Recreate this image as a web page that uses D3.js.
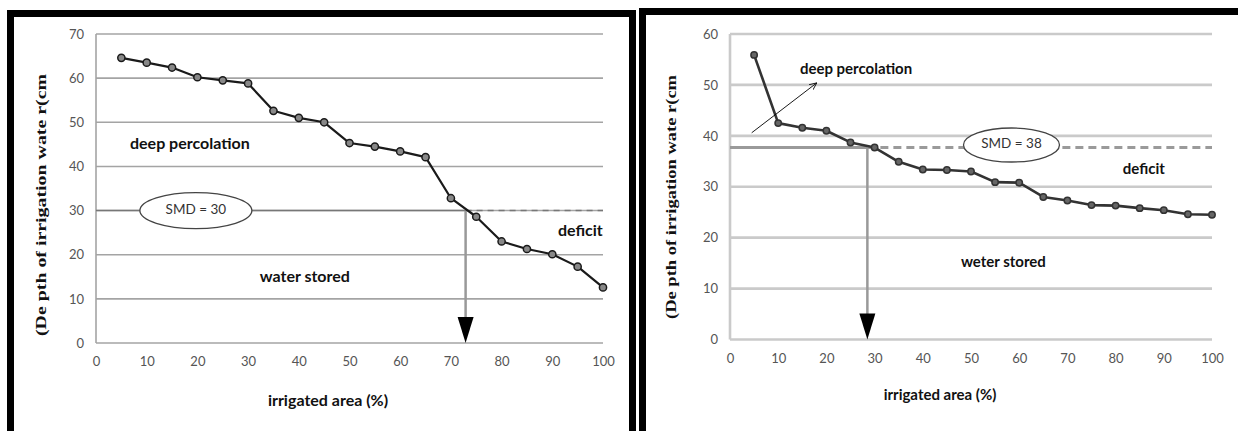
<!DOCTYPE html>
<html>
<head>
<meta charset="utf-8">
<script src="https://cdn.jsdelivr.net/npm/d3@7"></script>
<style>
  html, body { margin: 0; padding: 0; background: #fff; }
  svg { display: block; }
</style>
</head>
<body>
<svg id="chart" width="1238" height="431"></svg>
<script>
// irrigated area (%) for every measured point
const areaPct = [5, 10, 15, 20, 25, 30, 35, 40, 45, 50, 55, 60, 65, 70, 75, 80, 85, 90, 95, 100];

// depth of irrigation water (cm)
const depthLeft = [64.6, 63.5, 62.4, 60.2, 59.5, 58.8, 52.6, 51.0, 50.0, 45.3, 44.5, 43.4, 42.1, 32.8, 28.6, 23.0, 21.3, 20.1, 17.3, 12.6];
const depthRight = [55.9, 42.5, 41.6, 41.0, 38.7, 37.7, 34.9, 33.4, 33.3, 33.0, 30.9, 30.8, 28.0, 27.3, 26.4, 26.3, 25.8, 25.4, 24.6, 24.5];

const xTicks = [0, 10, 20, 30, 40, 50, 60, 70, 80, 90, 100];
const yTicksLeft = [0, 10, 20, 30, 40, 50, 60, 70];
const yTicksRight = [0, 10, 20, 30, 40, 50, 60];

// soil moisture deficit line and where it meets the curve
const smdLeft = 30, smdLeftLabel = "SMD = 30", cutLeft = 72.9;
const smdRight = 37.7, smdRightLabel = "SMD = 38", cutRight = 28.5;

const xTitle = "irrigated area (%)";
const yTitle = "(De pth of irrigation wate r(cm";

const svg = d3.select("#chart");

function drawPanel(opt) {
    const x = d3.scaleLinear().domain([0, 100]).range(opt.xRange);
    const y = d3.scaleLinear().domain(opt.yDomain).range(opt.yRange);
    const g = svg.append("g");

    // black frame round the panel
    g.append("rect")
        .attr("x", opt.frame[0]).attr("y", opt.frame[1])
        .attr("width", opt.frame[2]).attr("height", opt.frame[3])
        .attr("fill", "none").attr("stroke", "#000").attr("stroke-width", 7);

    // horizontal gridlines
    g.append("g")
        .selectAll("line")
        .data(opt.yTicks)
        .join("line")
        .attr("x1", x(0)).attr("x2", x(100))
        .attr("y1", d => y(d)).attr("y2", d => y(d))
        .attr("stroke", opt.gridColor).attr("stroke-width", opt.gridWidth);

    // vertical axis line
    g.append("line")
        .attr("x1", x(0)).attr("x2", x(0))
        .attr("y1", y(opt.yDomain[0])).attr("y2", y(opt.yDomain[1]))
        .attr("stroke", opt.gridColor).attr("stroke-width", opt.gridWidth);

    // tick labels
    const yAxis = g.append("g")
        .attr("transform", `translate(${x(0) - 12},0)`)
        .call(d3.axisLeft(y).tickValues(opt.yTicks).tickSize(0).tickPadding(0));
    const xAxis = g.append("g")
        .attr("transform", `translate(0,${y(0) + 14})`)
        .call(d3.axisBottom(x).tickValues(xTicks).tickSize(0).tickPadding(0));
    [xAxis, yAxis].forEach(a => {
        a.select(".domain").remove();
        a.selectAll("text")
            .attr("font-family", "Lato, 'Open Sans', sans-serif")
            .attr("font-size", opt.tickSize)
            .attr("fill", "#555");
    });

    // axis titles
    g.append("text")
        .attr("x", opt.xTitlePos[0]).attr("y", opt.xTitlePos[1])
        .attr("text-anchor", "middle").attr("dominant-baseline", "middle")
        .attr("font-family", "Lato, sans-serif").attr("font-weight", "bold")
        .attr("font-size", opt.titleSize).attr("fill", "#111")
        .text(xTitle);
    g.append("text")
        .attr("transform", `translate(${opt.yTitlePos[0]},${opt.yTitlePos[1]}) rotate(-90)`)
        .attr("text-anchor", "middle").attr("dominant-baseline", "middle")
        .attr("font-family", "'Liberation Serif', 'Times New Roman', serif").attr("font-weight", "bold")
        .attr("font-size", opt.yTitleSize).attr("fill", "#111")
        .attr("textLength", opt.yTitleLen).attr("lengthAdjust", "spacingAndGlyphs")
        .text(yTitle);

    // SMD line: solid up to the curve, dashed after it
    g.append("line")
        .attr("x1", x(0)).attr("x2", x(opt.cut))
        .attr("y1", y(opt.smd)).attr("y2", y(opt.smd))
        .attr("stroke", opt.smdColor).attr("stroke-width", opt.smdWidth);
    g.append("line")
        .attr("x1", x(opt.cut)).attr("x2", x(100))
        .attr("y1", y(opt.smd)).attr("y2", y(opt.smd))
        .attr("stroke", opt.smdColor).attr("stroke-width", opt.smdWidth)
        .attr("stroke-dasharray", opt.dash);

    // vertical arrow down to the x axis
    g.append("line")
        .attr("x1", x(opt.cut)).attr("x2", x(opt.cut))
        .attr("y1", y(opt.smd)).attr("y2", y(0) - 20)
        .attr("stroke", "#999").attr("stroke-width", 2.5);
    const ax = x(opt.cut), ay = y(0);
    g.append("path")
        .attr("d", `M${ax - 8},${ay - 26}L${ax + 8},${ay - 26}L${ax},${ay}Z`)
        .attr("fill", "#000");

    // SMD ellipse label
    g.append("ellipse")
        .attr("cx", x(opt.ellipse[0])).attr("cy", y(opt.ellipse[1]))
        .attr("rx", opt.ellipse[2]).attr("ry", opt.ellipse[3])
        .attr("fill", "#fff").attr("stroke", "#444").attr("stroke-width", 1.3);
    g.append("text")
        .attr("x", x(opt.ellipse[0])).attr("y", y(opt.ellipse[1]))
        .attr("text-anchor", "middle").attr("dominant-baseline", "middle")
        .attr("font-family", "Lato, sans-serif").attr("font-size", 13.5)
        .attr("fill", "#333")
        .text(opt.smdLabel);

    // the curve and its markers
    const pts = areaPct.map((a, i) => [a, opt.values[i]]);
    g.append("path")
        .datum(pts)
        .attr("fill", "none")
        .attr("stroke", opt.lineColor).attr("stroke-width", opt.lineWidth)
        .attr("stroke-linejoin", "round")
        .attr("d", d3.line().x(d => x(d[0])).y(d => y(d[1])));
    g.append("g")
        .selectAll("circle")
        .data(pts)
        .join("circle")
        .attr("cx", d => x(d[0])).attr("cy", d => y(d[1]))
        .attr("r", opt.markerR)
        .attr("fill", opt.markerFill).attr("stroke", opt.lineColor).attr("stroke-width", 1.5);

    // region labels
    g.append("g")
        .selectAll("text")
        .data(opt.labels)
        .join("text")
        .attr("x", d => x(d.x)).attr("y", d => y(d.y))
        .attr("dominant-baseline", "middle")
        .attr("font-family", "Lato, sans-serif").attr("font-weight", "bold")
        .attr("font-size", opt.labelSize).attr("fill", "#111")
        .text(d => d.text);

    return { g, x, y };
}

// left panel
drawPanel({
    xRange: [96, 603], yDomain: [0, 70], yRange: [343, 34],
    frame: [10.5, 13.5, 622, 460],
    yTicks: yTicksLeft, values: depthLeft,
    gridColor: "#a4a4a4", gridWidth: 1.6,
    tickSize: 13, titleSize: 16, labelSize: 16,
    xTitlePos: [328, 402], yTitlePos: [43, 205], yTitleSize: 15, yTitleLen: 262,
    smd: smdLeft, smdLabel: smdLeftLabel, cut: cutLeft,
    smdColor: "#777", smdWidth: 1.6, dash: "6,5",
    ellipse: [19.7, smdLeft, 56, 18],
    lineColor: "#1a1a1a", lineWidth: 2.2, markerR: 3.6, markerFill: "#888",
    labels: [
        { text: "deep percolation", x: 6.7, y: 44.9 },
        { text: "water stored", x: 32.3, y: 14.7 },
        { text: "deficit", x: 91.1, y: 25.2 }
    ]
});

// right panel
const right = drawPanel({
    xRange: [730, 1212], yDomain: [0, 60], yRange: [339.5, 34],
    frame: [642.5, 11.5, 700, 460],
    yTicks: yTicksRight, values: depthRight,
    gridColor: "#cacaca", gridWidth: 2.6,
    tickSize: 13, titleSize: 15, labelSize: 15,
    xTitlePos: [940, 396], yTitlePos: [673, 197], yTitleSize: 15, yTitleLen: 244,
    smd: smdRight, smdLabel: smdRightLabel, cut: cutRight,
    smdColor: "#9a9a9a", smdWidth: 3, dash: "8,5",
    ellipse: [58.4, 38.2, 48, 17],
    lineColor: "#333", lineWidth: 2.6, markerR: 3.2, markerFill: "#666",
    labels: [
        { text: "deep percolation", x: 14.5, y: 52.9 },
        { text: "deficit", x: 81.5, y: 33.3 },
        { text: "weter stored", x: 47.9, y: 15.0 }
    ]
});

// thin pointer towards "deep percolation" on the right panel
const pointer = { x1: 4.5, y1: 40.6, x2: 18.0, y2: 50.4 };
svg.append("defs").append("marker")
    .attr("id", "open-head")
    .attr("viewBox", "0 0 10 10").attr("refX", 9).attr("refY", 5)
    .attr("markerWidth", 9).attr("markerHeight", 9)
    .attr("orient", "auto")
    .append("path")
    .attr("d", "M0,1L9,5L0,9")
    .attr("fill", "none").attr("stroke", "#000").attr("stroke-width", 1);
right.g.append("line")
    .attr("x1", right.x(pointer.x1)).attr("y1", right.y(pointer.y1))
    .attr("x2", right.x(pointer.x2)).attr("y2", right.y(pointer.y2))
    .attr("stroke", "#000").attr("stroke-width", 0.9)
    .attr("marker-end", "url(#open-head)");
</script>
</body>
</html>
